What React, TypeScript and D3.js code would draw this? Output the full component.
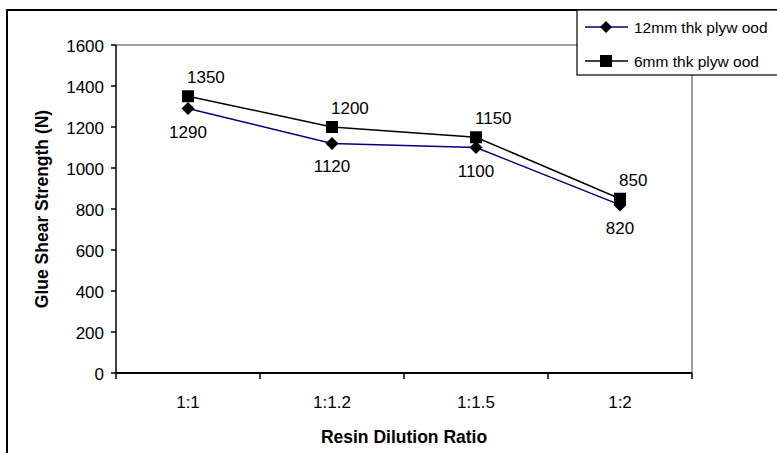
import React from "react";
import * as d3 from "d3";

const categories = ["1:1", "1:1.2", "1:1.5", "1:2"];
const series12mm = [1290, 1120, 1100, 820];
const series6mm = [1350, 1200, 1150, 850];
const yTicks = [0, 200, 400, 600, 800, 1000, 1200, 1400, 1600];
const seriesNames = ["12mm thk plyw ood", "6mm thk plyw ood"];

const W = 777;
const H = 453;
const plot = { left: 116, right: 692, top: 45, bottom: 373 };
const FONT = "Arial, 'Liberation Sans', sans-serif";
const FS = 17;
const FSB = 17.5;
const FSL = 15.5;

export default function App() {
  const x = d3
    .scaleBand<string>()
    .domain(categories)
    .range([plot.left, plot.right])
    .paddingInner(0)
    .paddingOuter(0);
  const y = d3.scaleLinear().domain([0, 1600]).range([plot.bottom, plot.top]);
  const cx = (c: string) => (x(c) as number) + x.bandwidth() / 2;

  const line = d3
    .line<number>()
    .x((_, i) => cx(categories[i]))
    .y((d) => y(d));

  const diamond = (px: number, py: number, r: number) =>
    `M${px},${py - r}L${px + r},${py}L${px},${py + r}L${px - r},${py}Z`;

  const sq = 6;
  const dr = 6.5;

  const bandEdges = categories.map((c) => x(c) as number).concat([plot.right]);

  return (
    <svg
      width={W}
      height={H}
      style={{ position: "absolute", left: 0, top: 0, background: "#fff" }}
      fontFamily={FONT}
    >
      <rect x={0} y={0} width={W} height={H} fill="#fff" />
      {/* outer chart border */}
      <path d={`M7,${H + 5}V10H${W + 5}`} fill="none" stroke="#000" strokeWidth={2} />

      {/* plot area border (top, right) */}
      <line x1={plot.left} x2={plot.right} y1={plot.top} y2={plot.top} stroke="#808080" strokeWidth={1.5} />
      <line x1={plot.right} x2={plot.right} y1={plot.top} y2={plot.bottom} stroke="#808080" strokeWidth={1.5} />

      {/* y axis */}
      <line x1={plot.left} x2={plot.left} y1={plot.top} y2={plot.bottom} stroke="#000" strokeWidth={1.5} />
      {yTicks.map((t) => (
        <g key={t}>
          <line x1={plot.left - 5} x2={plot.left} y1={y(t)} y2={y(t)} stroke="#000" strokeWidth={1.5} />
          <text x={plot.left - 12} y={y(t) + 6.5} textAnchor="end" fontSize={FS} fill="#000">
            {t}
          </text>
        </g>
      ))}

      {/* x axis */}
      <line x1={plot.left} x2={plot.right} y1={plot.bottom} y2={plot.bottom} stroke="#000" strokeWidth={2} />
      {bandEdges.map((e, i) => (
        <line key={i} x1={e} x2={e} y1={plot.bottom} y2={plot.bottom + 6} stroke="#000" strokeWidth={1.5} />
      ))}
      {categories.map((c) => (
        <text key={c} x={cx(c)} y={408} textAnchor="middle" fontSize={FS} fill="#000">
          {c}
        </text>
      ))}

      {/* axis titles */}
      <text x={(plot.left + plot.right) / 2} y={443} textAnchor="middle" fontSize={FSB} fontWeight="bold" fill="#000">
        Resin Dilution Ratio
      </text>
      <text
        transform={`translate(48,${(plot.top + plot.bottom) / 2}) rotate(-90)`}
        textAnchor="middle"
        fontSize={FSB}
        fontWeight="bold"
        fill="#000"
      >
        Glue Shear Strength (N)
      </text>

      {/* series lines */}
      <path d={line(series12mm) || ""} fill="none" stroke="#000080" strokeWidth={1.5} />
      <path d={line(series6mm) || ""} fill="none" stroke="#000" strokeWidth={1.5} />

      {/* markers */}
      {series6mm.map((v, i) => (
        <rect key={"s" + i} x={cx(categories[i]) - sq} y={y(v) - sq} width={sq * 2} height={sq * 2} fill="#000" />
      ))}
      {series12mm.map((v, i) => (
        <path key={"d" + i} d={diamond(cx(categories[i]), y(v), dr)} fill="#000" />
      ))}

      {/* data labels */}
      {series6mm.map((v, i) => (
        <text key={"ls" + i} x={cx(categories[i]) - 1} y={y(v) - 13} fontSize={FS} fill="#000">
          {v}
        </text>
      ))}
      {series12mm.map((v, i) => (
        <text key={"ld" + i} x={cx(categories[i])} y={y(v) + 29} textAnchor="middle" fontSize={FS} fill="#000">
          {v}
        </text>
      ))}

      {/* legend */}
      <rect x={577} y={10} width={W} height={65} fill="#fff" stroke="#000" strokeWidth={1.2} />
      <line x1={585} x2={628} y1={27} y2={27} stroke="#000080" strokeWidth={1.5} />
      <path d={diamond(606, 27, 6)} fill="#000" />
      <text x={634} y={33} fontSize={FSL} fill="#000">
        {seriesNames[0]}
      </text>
      <line x1={585} x2={628} y1={61} y2={61} stroke="#000" strokeWidth={1.5} />
      <rect x={600} y={55} width={12} height={12} fill="#000" />
      <text x={634} y={67} fontSize={FSL} fill="#000">
        {seriesNames[1]}
      </text>
    </svg>
  );
}
